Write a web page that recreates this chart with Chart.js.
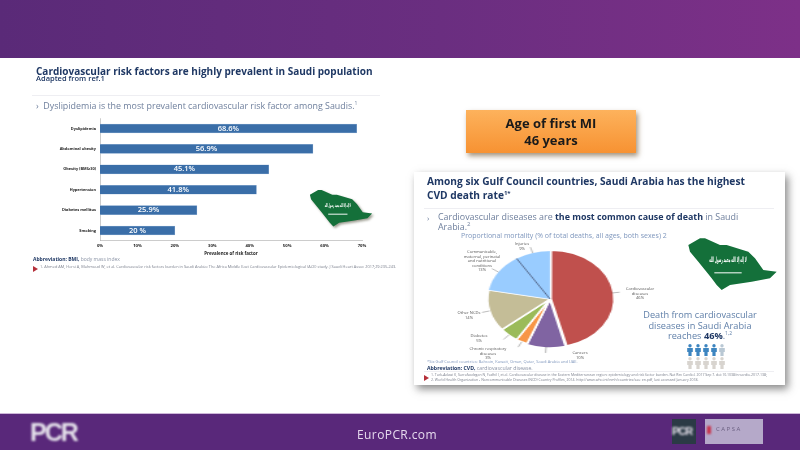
<!DOCTYPE html>
<html>
<head>
<meta charset="utf-8">
<script src="https://cdn.jsdelivr.net/npm/chart.js@4"></script>
<style>
html, body { margin: 0; padding: 0; }
body { width: 800px; height: 450px; overflow: hidden; background: #fff; position: relative; font-family: "Open Sans", sans-serif; color: #7d8aa3; }
#page { left: 0; top: 0; width: 800px; height: 450px; filter: blur(.35px); }
div, canvas, svg { position: absolute; }
sup { line-height: 0; }
.header { left: 0; top: 0; width: 800px; height: 58px; background: linear-gradient(90deg, #5a2a78 0%, #6a2e80 55%, #7d3088 100%); }
.footer { left: 0; top: 413px; width: 800px; height: 37px; background: #59287a; border-top: 1px solid #cdb6d8; box-sizing: border-box; }
.footer-text { left: 297px; top: 426px; width: 200px; text-align: center; color: #e6daee; font-size: 12px; letter-spacing: .4px; }
.pcr { color: #e4e0ea; font: bold 20px "Liberation Sans", sans-serif; filter: blur(.8px); letter-spacing: -2px; }
.title { left: 36px; top: 64px; color: #1f3864; font-size: 10px; font-weight: 700; white-space: nowrap; }
.adapted { left: 36px; top: 73px; color: #1f3864; font-size: 7.5px; font-weight: 600; white-space: nowrap; }
.rule { height: 1px; background: #eeeef2; }
.bullet { color: #6e7f9c; font-size: 8.9px; white-space: nowrap; }
.abbr { color: #8a93a5; font-size: 5px; white-space: nowrap; }
.abbr b { color: #1f3864; }
.ref { color: #7a7f8c; font-size: 3.9px; white-space: nowrap; }
.arrow { width: 0; height: 0; border-left: 5px solid #b5303a; border-top: 3px solid transparent; border-bottom: 3px solid transparent; }
.agebox { left: 466px; top: 110px; width: 170px; height: 43px; background: linear-gradient(180deg, #fdb25c, #f79232); box-shadow: 2px 3px 5px rgba(90,60,20,.55); text-align: center; font-size: 13px; font-weight: 700; color: #1a1a1a; line-height: 17px; box-sizing: border-box; padding-top: 5px; }
.panel { left: 414px; top: 172px; width: 371px; height: 213px; background: #fff; box-shadow: 3px 4px 8px rgba(60,60,60,.6); }
.panel-title { left: 427px; top: 174px; color: #1f3864; font-size: 10.2px; font-weight: 700; line-height: 14px; white-space: nowrap; }
.panel-text { left: 438px; top: 212px; color: #6e7f9c; font-size: 8.9px; line-height: 10px; white-space: nowrap; }
.panel-text b { color: #1f3864; }
.pie-title { left: 461px; top: 231px; color: #7f97bd; font-size: 7px; white-space: nowrap; }
.lbl { color: #555; font-size: 4.1px; line-height: 4.6px; text-align: center; white-space: nowrap; transform: translateX(-50%); }
.death { left: 630px; top: 310px; width: 140px; text-align: center; color: #5f7fa8; font-size: 9.2px; line-height: 10.5px; }
.death b { color: #1f3864; }
</style>
</head>
<body>
<div id="page">
<div class="header"></div>

<div class="title">Cardiovascular risk factors are highly prevalent in Saudi population</div>
<div class="adapted">Adapted from ref.1</div>
<div class="rule" style="left:32px;top:95px;width:348px"></div>
<div class="bullet" style="left:36px;top:99px">&#8250;&nbsp; Dyslipidemia is the most prevalent cardiovascular risk factor among Saudis.<sup style="font-size:5px">1</sup></div>

<canvas id="barChart" style="left:20px;top:112px"></canvas>

<svg style="left:304px;top:184px" width="74" height="46" viewBox="0 0 315 195">
  <path d="M25 45 L60 25 L75 25 L120 45 L140 45 L205 65 L225 85 L250 120 L290 125 L270 145 L215 155 L150 165 L125 180 L110 165 L95 145 L75 120 L55 95 L30 65 Z" fill="#14703a" style="filter:drop-shadow(7px 7px 4px rgba(90,90,70,.6))"/>
  <text x="144" y="97" fill="#fff" font-size="22" font-weight="bold" text-anchor="middle" textLength="112" lengthAdjust="spacingAndGlyphs" font-family="DejaVu Sans">لا إله إلا الله محمد رسول الله</text>
  <rect x="103" y="126" width="82" height="4" fill="#fff"/>
</svg>

<div class="abbr" style="left:33px;top:256px"><b>Abbreviation: BMI,</b> body mass index</div>
<div class="arrow" style="left:33px;top:266px"></div>
<div class="ref" style="left:40px;top:264px">1. Ahmed AM, Hersi A, Mahmoud W, et al. Cardiovascular risk factors burden in Saudi Arabia: The Africa Middle East Cardiovascular Epidemiological (ACE) study. J Saudi Heart Assoc 2017;29:235-243.</div>

<div class="agebox">Age of first MI<br>46 years</div>

<div class="panel"></div>
<div class="panel-title">Among six Gulf Council countries, Saudi Arabia has the highest<br>CVD death rate<sup style="font-size:6px">1*</sup></div>
<div class="rule" style="left:424px;top:208px;width:350px"></div>
<div class="panel-text">Cardiovascular diseases are <b>the most common cause of death</b> in Saudi<br>Arabia.<sup style="font-size:6px">2</sup></div>
<div class="bullet" style="left:427px;top:212px;font-size:8px">&#8250;</div>
<div class="pie-title">Proportional mortality (% of total deaths, all ages, both sexes) 2</div>

<canvas id="pieChart" style="left:465px;top:214px;transform:scaleX(1.3)"></canvas>

<div class="lbl" style="left:522px;top:242px">Injuries<br>9%</div>
<div class="lbl" style="left:482px;top:250px">Communicable,<br>maternal, perinatal<br>and nutritional<br>conditions<br>13%</div>
<div class="lbl" style="left:469px;top:311px">Other NCDs<br>14%</div>
<div class="lbl" style="left:479px;top:334px">Diabetes<br>5%</div>
<div class="lbl" style="left:488px;top:347px">Chronic respiratory<br>diseases<br>3%</div>
<div class="lbl" style="left:580px;top:351px">Cancers<br>10%</div>
<div class="lbl" style="left:640px;top:287px">Cardiovascular<br>diseases<br>46%</div>

<svg style="left:680px;top:230px" width="105" height="65" viewBox="0 0 315 195">
  <path d="M25 45 L60 25 L75 25 L120 45 L140 45 L205 65 L225 85 L250 120 L290 125 L270 145 L215 155 L150 165 L125 180 L110 165 L95 145 L75 120 L55 95 L30 65 Z" fill="#14703a"/>
  <text x="144" y="97" fill="#fff" font-size="22" font-weight="bold" text-anchor="middle" textLength="112" lengthAdjust="spacingAndGlyphs" font-family="DejaVu Sans">لا إله إلا الله محمد رسول الله</text>
  <rect x="103" y="127" width="82" height="3" fill="#fff"/>
</svg>

<div class="death">Death from cardiovascular<br>diseases in Saudi Arabia<br>reaches <b>46%</b>.<sup style="font-size:5px">1,2</sup></div>

<svg style="left:685px;top:344px" width="42" height="28" viewBox="0 0 42 28">
  <defs>
    <g id="man"><circle cx="4" cy="1.8" r="1.7"/><path d="M1.2 4 H6.8 V8 L5.6 8 V12 H2.4 V8 L1.2 8 Z"/></g>
  </defs>
  <use href="#man" x="1" y="0" fill="#3d85c0"/><use href="#man" x="9" y="0" fill="#3d85c0"/><use href="#man" x="17" y="0" fill="#3d85c0"/><use href="#man" x="25" y="0" fill="#3d85c0"/><use href="#man" x="33" y="0" fill="#b9c8d4"/>
  <use href="#man" x="1" y="13" fill="#d8d4cf"/><use href="#man" x="9" y="13" fill="#d8d4cf"/><use href="#man" x="17" y="13" fill="#d8d4cf"/><use href="#man" x="25" y="13" fill="#d8d4cf"/><use href="#man" x="33" y="13" fill="#d8d4cf"/>
</svg>

<div class="abbr" style="left:427px;top:359px;font-size:4px;color:#7f97bd">*Six Gulf Council countries: Bahrain, Kuwait, Oman, Qatar, Saudi Arabia and UAE.</div>
<div class="abbr" style="left:427px;top:364px;font-size:5.2px"><b>Abbreviation: CVD,</b> cardiovascular disease.</div>
<div class="rule" style="left:424px;top:371px;width:350px"></div>
<div class="arrow" style="left:424px;top:375px"></div>
<div class="ref" style="left:431px;top:373px;font-size:3.5px;line-height:4.6px">1. Turk-Adawi K, Sarrafzadegan N, Fadhil I, et al. Cardiovascular disease in the Eastern Mediterranean region: epidemiology and risk factor burden. Nat Rev Cardiol. 2017 Sep 7. doi:10.1038/nrcardio.2017.138;<br>2. World Health Organization - Noncommunicable Diseases (NCD) Country Profiles, 2014. http://www.who.int/nmh/countries/sau_en.pdf, last accessed January 2018.</div>

<div class="footer"></div>
<div class="footer-text">EuroPCR.com</div>
<div class="pcr" style="left:30px;top:418px;font-size:25px">PCR</div>
<div style="left:672px;top:419px;width:24px;height:25px;background:#2b3a45"></div>
<div class="pcr" style="left:672px;top:425px;font-size:11px;letter-spacing:-1px">PCR</div>
<div style="left:705px;top:419px;width:58px;height:25px;background:#b5a9c9;filter:blur(.5px)"></div>
<div style="left:707px;top:426px;width:4px;height:8px;background:#c8324a;filter:blur(.8px)"></div>
<div style="left:716px;top:425px;color:#6a5f80;font-size:6px;letter-spacing:1.5px;filter:blur(.6px)">CAPSA</div>
</div>

<script>
const riskFactors = ['Dyslipidemia', 'Abdominal obesity', 'Obesity (BMI≥30)', 'Hypertension', 'Diabetes mellitus', 'Smoking'];
const prevalence = [68.6, 56.9, 45.1, 41.8, 25.9, 20];
const prevalenceLabels = ['68.6%', '56.9%', '45.1%', '41.8%', '25.9%', '20 %'];
const prevalenceTicks = ['0%', '10%', '20%', '30%', '40%', '50%', '60%', '70%'];

const causes = ['Cardiovascular diseases', 'Cancers', 'Chronic respiratory diseases', 'Diabetes', 'Other NCDs', 'Communicable, maternal, perinatal and nutritional conditions', 'Injuries'];
const causeShares = [46, 10, 3, 5, 14, 13, 9];
const causeColors = ['#c0504d', '#8064a2', '#f79646', '#9bbb59', '#c4bd97', '#99ccff', '#99ccff'];

// 条形内的数值标签
const barValuePlugin = {
    id: 'barValues',
    afterDatasetsDraw(chart) {
        const ctx = chart.ctx;
        ctx.save();
        ctx.fillStyle = '#fff';
        ctx.font = '600 7.5px "Open Sans"';
        ctx.textAlign = 'center';
        ctx.textBaseline = 'middle';
        chart.getDatasetMeta(0).data.forEach((bar, i) => {
            ctx.fillText(prevalenceLabels[i], (bar.base + bar.x) / 2, bar.y);
        });
        ctx.restore();
    }
};

// 饼图的引线和分隔线
const pieLeaderPlugin = {
    id: 'pieLeaders',
    afterDatasetsDraw(chart) {
        const ctx = chart.ctx;
        const arcs = chart.getDatasetMeta(0).data;
        ctx.save();
        ctx.strokeStyle = '#555';
        ctx.lineWidth = 0.4;
        arcs.forEach(arc => {
            const mid = (arc.startAngle + arc.endAngle) / 2;
            const r = arc.outerRadius;
            ctx.beginPath();
            ctx.moveTo(arc.x + Math.cos(mid) * r, arc.y + Math.sin(mid) * r);
            ctx.lineTo(arc.x + Math.cos(mid) * (r + 6), arc.y + Math.sin(mid) * (r + 6));
            ctx.stroke();
        });
        const inj = arcs[arcs.length - 1];
        ctx.strokeStyle = '#1f3864';
        ctx.lineWidth = 0.7;
        ctx.beginPath();
        ctx.moveTo(inj.x, inj.y);
        ctx.lineTo(inj.x + Math.cos(inj.startAngle) * inj.outerRadius, inj.y + Math.sin(inj.startAngle) * inj.outerRadius);
        ctx.stroke();
        ctx.restore();
    }
};

function barGradient(context) {
    const el = context.element;
    if (!el || !Number.isFinite(el.y)) return '#3a6ea8';
    const g = context.chart.ctx.createLinearGradient(0, el.y - 4.5, 0, el.y + 4.5);
    g.addColorStop(0, '#7ea6d6');
    g.addColorStop(0.2, '#3a6db0');
    g.addColorStop(0.8, '#2f5f9f');
    g.addColorStop(1, '#4a7cb8');
    return g;
}

const barCanvas = document.getElementById('barChart');
barCanvas.width = 350;
barCanvas.height = 144;
new Chart(barCanvas, {
    type: 'bar',
    data: {
        labels: riskFactors,
        datasets: [{
            data: prevalence,
            backgroundColor: barGradient,
            borderColor: '#9db8d8',
            borderWidth: 0.5,
            barThickness: 9
        }]
    },
    options: {
        indexAxis: 'y',
        responsive: false,
        animation: false,
        layout: { padding: { top: 4, right: 8 } },
        plugins: { legend: { display: false }, tooltip: { enabled: false } },
        scales: {
            x: {
                min: 0,
                max: 70,
                afterBuildTicks(axis) { axis.ticks = prevalenceTicks.map((t, i) => ({ value: i * 10 })); },
                grid: { display: false, tickLength: 2 },
                border: { color: '#999', width: 0.5 },
                ticks: {
                    color: '#222',
                    font: { size: 4.2, weight: 'bold', family: '"Open Sans"' },
                    padding: 1,
                    maxRotation: 0,
                    callback: (v, i) => prevalenceTicks[i]
                },
                title: {
                    display: true,
                    text: 'Prevalence of risk factor',
                    color: '#222',
                    font: { size: 4.4, weight: 'bold', family: '"Open Sans"' },
                    padding: { top: 1, bottom: 0 }
                }
            },
            y: {
                afterFit(axis) { axis.width = 80; },
                grid: { display: false, tickLength: 0 },
                border: { color: '#999', width: 0.5 },
                ticks: {
                    color: '#222',
                    font: { size: 3.9, weight: 'bold', family: '"Open Sans"' },
                    padding: 4
                }
            }
        }
    },
    plugins: [barValuePlugin]
});

const pieCanvas = document.getElementById('pieChart');
pieCanvas.width = 170;
pieCanvas.height = 170;
new Chart(pieCanvas, {
    type: 'pie',
    data: {
        labels: causes,
        datasets: [{
            data: causeShares,
            backgroundColor: causeColors,
            borderColor: '#fff',
            borderWidth: [1.5, 1.5, 1.5, 1.5, 1.5, 0.2, 0.2],
            offset: [3, 3, 0, 0, 0, 0, 0]
        }]
    },
    options: {
        responsive: false,
        animation: false,
        radius: 48,
        plugins: { legend: { display: false }, tooltip: { enabled: false } }
    },
    plugins: [pieLeaderPlugin]
});
</script>
</body>
</html>
